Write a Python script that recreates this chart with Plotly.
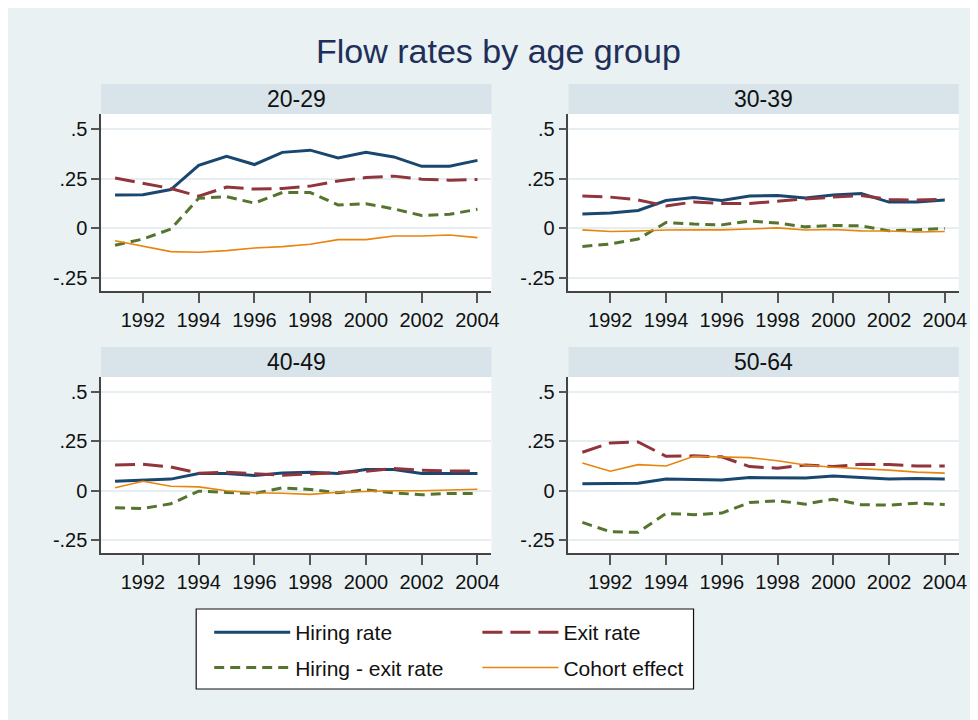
import plotly.graph_objects as go

years = list(range(1991, 2005))
groups = ["20-29", "30-39", "40-49", "50-64"]
series_names = ["Hiring rate", "Exit rate", "Hiring - exit rate", "Cohort effect"]

hiring_20_29 = [0.167, 0.169, 0.195, 0.316, 0.361, 0.320, 0.381, 0.392, 0.353, 0.381, 0.358, 0.311, 0.311, 0.341]
exit_20_29 = [0.253, 0.225, 0.200, 0.162, 0.207, 0.197, 0.200, 0.212, 0.238, 0.255, 0.262, 0.247, 0.242, 0.245]
diff_20_29 = [-0.084, -0.053, -0.003, 0.151, 0.159, 0.127, 0.180, 0.180, 0.118, 0.124, 0.098, 0.065, 0.071, 0.096]
cohort_20_29 = [-0.061, -0.089, -0.116, -0.119, -0.111, -0.098, -0.091, -0.079, -0.056, -0.056, -0.038, -0.038, -0.033, -0.046]

hiring_30_39 = [0.072, 0.078, 0.090, 0.140, 0.155, 0.140, 0.162, 0.165, 0.153, 0.167, 0.175, 0.132, 0.132, 0.142]
exit_30_39 = [0.163, 0.157, 0.143, 0.113, 0.133, 0.125, 0.125, 0.137, 0.148, 0.157, 0.165, 0.145, 0.142, 0.147]
diff_30_39 = [-0.090, -0.078, -0.053, 0.030, 0.022, 0.018, 0.037, 0.027, 0.008, 0.015, 0.013, -0.012, -0.007, 0.000]
cohort_30_39 = [-0.007, -0.015, -0.013, -0.008, -0.007, -0.007, -0.003, 0.003, -0.008, -0.005, -0.012, -0.013, -0.018, -0.015]

hiring_40_49 = [0.048, 0.052, 0.059, 0.087, 0.087, 0.077, 0.090, 0.094, 0.087, 0.107, 0.107, 0.087, 0.087, 0.087]
exit_40_49 = [0.130, 0.134, 0.120, 0.089, 0.094, 0.085, 0.079, 0.085, 0.092, 0.099, 0.112, 0.104, 0.100, 0.100]
diff_40_49 = [-0.085, -0.089, -0.065, -0.002, -0.008, -0.013, 0.015, 0.007, -0.010, 0.005, -0.010, -0.020, -0.013, -0.013]
cohort_40_49 = [0.015, 0.048, 0.023, 0.020, 0.000, -0.010, -0.012, -0.018, -0.007, -0.003, 0.000, 0.000, 0.005, 0.008]

hiring_50_64 = [0.035, 0.035, 0.038, 0.060, 0.057, 0.054, 0.067, 0.067, 0.064, 0.075, 0.069, 0.060, 0.062, 0.060]
exit_50_64 = [0.194, 0.241, 0.246, 0.174, 0.176, 0.171, 0.122, 0.114, 0.130, 0.122, 0.134, 0.132, 0.125, 0.125]
diff_50_64 = [-0.159, -0.206, -0.209, -0.114, -0.120, -0.112, -0.059, -0.050, -0.067, -0.042, -0.070, -0.072, -0.062, -0.069]
cohort_50_64 = [0.140, 0.099, 0.132, 0.125, 0.174, 0.172, 0.167, 0.151, 0.130, 0.119, 0.112, 0.104, 0.094, 0.089]

x_tick_vals = [1992, 1994, 1996, 1998, 2000, 2002, 2004]
y_tick_vals = [-0.25, 0, 0.25, 0.5]
y_tick_text = ["-.25", "0", ".25", ".5"]

data_by_group = {
    "20-29": [hiring_20_29, exit_20_29, diff_20_29, cohort_20_29],
    "30-39": [hiring_30_39, exit_30_39, diff_30_39, cohort_30_39],
    "40-49": [hiring_40_49, exit_40_49, diff_40_49, cohort_40_49],
    "50-64": [hiring_50_64, exit_50_64, diff_50_64, cohort_50_64],
}

# The page body keeps its default 8px margin, so the figure is drawn 8px smaller
# and layout positions below are given in page pixels minus that offset.
OFF = 8
W, H = 978 - OFF, 720 - OFF
XFIX = 1.009  # small horizontal correction observed in the rendered page
FONT = "Liberation Sans, Arial, sans-serif"
BG = "#e9f1f3"
STRIP = "#d8e4ea"


def px(x):
    return (x * XFIX + 1 - OFF) / W


def py(y):
    return 1 - (y - OFF) / H


styles = [
    dict(color="#1a476f", width=3, dash="solid"),
    dict(color="#90353b", width=3, dash="20px,8px"),
    dict(color="#55752f", width=3, dash="10px,6px"),
    dict(color="#e8850c", width=1.6, dash="solid"),
]
legend_of = ["legend", "legend2", "legend", "legend2"]

# panel page-pixel boxes: (x0, x1, y_top, y_bottom)
panels = [(100, 490, 114, 291), (567, 957, 114, 291), (100, 490, 377, 553), (567, 957, 377, 553)]
strip_h = 30

fig = go.Figure()
layout_axes = {}
shapes = []
annotations = []

for i, g in enumerate(groups):
    x0, x1, yt, yb = panels[i]
    n = i + 1
    xa = "x" if n == 1 else f"x{n}"
    ya = "y" if n == 1 else f"y{n}"
    for k, name in enumerate(series_names):
        fig.add_trace(go.Scatter(
            x=years, y=data_by_group[g][k], mode="lines", name=name,
            line=styles[k], xaxis=xa, yaxis=ya,
            showlegend=(i == 0), legend=legend_of[k], legendgroup=name,
        ))
    layout_axes[f"xaxis{'' if n == 1 else n}"] = dict(
        domain=[px(x0), px(x1)], anchor=ya, range=[1990.5, 2004.5],
        tickvals=x_tick_vals, ticks="outside", ticklen=10, tickwidth=1.5, tickcolor="#555555",
        showline=True, linecolor="#444444", linewidth=1.5, showgrid=False, zeroline=False,
        tickfont=dict(family=FONT, size=20, color="#111111"), fixedrange=True,
    )
    layout_axes[f"yaxis{'' if n == 1 else n}"] = dict(
        domain=[py(yb), py(yt)], anchor=xa, range=[-0.313, 0.573],
        tickvals=y_tick_vals, ticktext=y_tick_text, ticks="outside", ticklen=8, tickwidth=1.5,
        tickcolor="#555555", showline=True, linecolor="#444444", linewidth=1.5,
        showgrid=True, gridcolor="#e6eef1", gridwidth=1.5, zeroline=False,
        tickfont=dict(family=FONT, size=20, color="#111111"), fixedrange=True,
    )
    shapes.append(dict(type="rect", xref="paper", yref="paper", x0=px(x0), x1=px(x1),
                       y0=py(yt), y1=py(yt - strip_h), fillcolor=STRIP,
                       line=dict(width=0), layer="below"))
    annotations.append(dict(text=g, xref="paper", yref="paper", x=px((x0 + x1) / 2),
                            y=py(yt - strip_h / 2), showarrow=False,
                            xanchor="center", yanchor="middle",
                            font=dict(family=FONT, size=23, color="#111111")))

# legend box
shapes.append(dict(type="rect", xref="paper", yref="paper", x0=px(195), x1=px(692),
                   y0=py(689), y1=py(609), fillcolor="white",
                   line=dict(color="#111111", width=1.2), layer="below"))

leg_common = dict(orientation="v", bgcolor="rgba(0,0,0,0)", borderwidth=0,
                  font=dict(family=FONT, size=21, color="#111111"),
                  itemwidth=76, tracegroupgap=5, xanchor="left", yanchor="top",
                  itemclick=False, itemdoubleclick=False)

fig.update_layout(
    width=W, height=H, autosize=False,
    margin=dict(l=0, r=0, t=0, b=0),
    paper_bgcolor=BG, plot_bgcolor="white",
    title=dict(text="Flow rates by age group", x=px(493), xanchor="center", y=py(51), yanchor="middle",
               font=dict(family=FONT, size=34, color="#1f2f5a")),
    shapes=shapes, annotations=annotations,
    legend=dict(x=px(208), y=py(612), **leg_common),
    legend2=dict(x=px(476), y=py(612), **leg_common),
    **layout_axes,
)

fig.write_html("out.html", config={"displayModeBar": False})
